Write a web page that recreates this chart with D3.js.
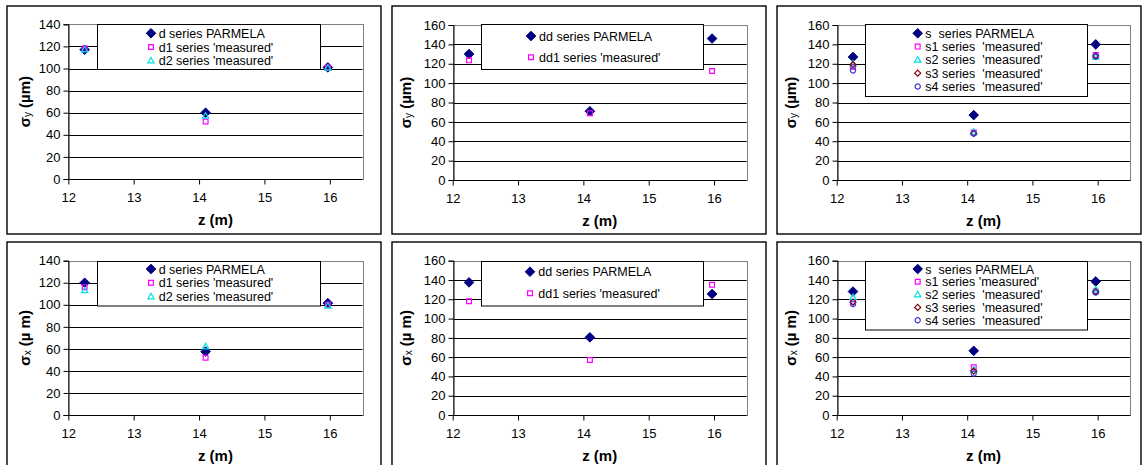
<!DOCTYPE html>
<html>
<head>
<meta charset="utf-8">
<script src="https://cdn.jsdelivr.net/npm/d3@7"></script>
<style>
  html, body { margin: 0; padding: 0; background: #fff; }
  svg { display: block; }
  text { font-family: "Liberation Sans", Arial, sans-serif; fill: #000; }
</style>
</head>
<body>
<svg id="chart" width="1143" height="465"></svg>
<script>
// Beam size along the line: PARMELA simulation vs. measured, three optics settings
const zPositions = [12.25, 14.1, 15.97];

const zTicks = [12, 13, 14, 15, 16];
const yTicks140 = [0, 20, 40, 60, 80, 100, 120, 140];
const yTicks160 = [0, 20, 40, 60, 80, 100, 120, 140, 160];

// vertical size σy (µm)
const sigmaY_d_parmela = [117, 60, 101];
const sigmaY_d1 = [118, 52, 101];
const sigmaY_d2 = [117, 57, 100.5];

const sigmaY_dd_parmela = [130, 71, 146];
const sigmaY_dd1 = [123.5, 69, 112.5];

const sigmaY_s_parmela = [127, 67, 140];
const sigmaY_s1 = [117, 49, 129];
const sigmaY_s2 = [120, 49.5, 127];
const sigmaY_s3 = [119, 48, 128];
const sigmaY_s4 = [113, 48, 127.5];

// horizontal size σx (µm)
const sigmaX_d_parmela = [120, 57.5, 101.5];
const sigmaX_d1 = [116, 52, 100];
const sigmaX_d2 = [113, 62, 99];

const sigmaX_dd_parmela = [137.5, 80.5, 125.5];
const sigmaX_dd1 = [118, 57, 135];

const sigmaX_s_parmela = [128, 66.5, 138.5];
const sigmaX_s1 = [117.5, 49.5, 128];
const sigmaX_s2 = [122, 47, 130];
const sigmaX_s3 = [117, 45.5, 128];
const sigmaX_s4 = [115, 43, 127];

// legend labels
const labels_d = ["d series PARMELA", "d1 series 'measured'", "d2 series 'measured'"];
const labels_dd = ["dd series PARMELA", "dd1 series 'measured'"];
const labels_sY = ["s  series PARMELA", "s1 series  'measured'", "s2 series  'measured'", "s3 series  'measured'", "s4 series  'measured'"];
const labels_sX = ["s  series PARMELA", "s1 series 'measured'", "s2 series  'measured'", "s3 series  'measured'", "s4 series  'measured'"];

// marker styles, in series order
const markerStyles = {
  parmela: { shape: "diamond", size: 4.8, fill: "#000080", stroke: "#000080" },
  m1: { shape: "square", size: 2.4, fill: "none", stroke: "#ff00ff" },
  m2: { shape: "triangle", size: 3.2, fill: "none", stroke: "#00e0e0" },
  m3: { shape: "diamond", size: 3.0, fill: "none", stroke: "#800000" },
  m4: { shape: "circle", size: 2.6, fill: "none", stroke: "#3a3ad0" }
};

function markerPath(shape, s) {
  const p = d3.path();
  if (shape === "diamond") {
    p.moveTo(0, -s); p.lineTo(s, 0); p.lineTo(0, s); p.lineTo(-s, 0); p.closePath();
  } else if (shape === "square") {
    p.rect(-s, -s, 2 * s, 2 * s);
  } else if (shape === "triangle") {
    const h = s * 1.7;
    p.moveTo(0, -h * 0.6); p.lineTo(s, h * 0.4); p.lineTo(-s, h * 0.4); p.closePath();
  } else {
    p.arc(0, 0, s, 0, 2 * Math.PI);
  }
  return p.toString();
}

const panels = [
  { frame: [7, 6, 374, 228], plot: [68.3, 24.3, 362.5, 179], yMax: 140, yTicks: yTicks140, axis: "y", unitGap: false,
    titleX: 25, legend: { box: [97, 24, 223, 45], mx: 151, tx: 158.7, y0: 33.3, dy: 13.7 },
    series: [[sigmaY_d_parmela, "parmela"], [sigmaY_d1, "m1"], [sigmaY_d2, "m2"]], labels: labels_d },
  { frame: [392, 6, 374, 228], plot: [452.7, 25, 746.7, 180], yMax: 160, yTicks: yTicks160, axis: "y", unitGap: false,
    titleX: 406, legend: { box: [481, 24, 222, 45], mx: 531, tx: 539, y0: 36, dy: 21.3 },
    series: [[sigmaY_dd_parmela, "parmela"], [sigmaY_dd1, "m1"]], labels: labels_dd },
  { frame: [777, 6, 364, 228], plot: [836.7, 25, 1130.3, 180], yMax: 160, yTicks: yTicks160, axis: "y", unitGap: false,
    titleX: 791, legend: { box: [865, 24, 222, 72], mx: 917.7, tx: 925.3, y0: 33.3, dy: 13.3 },
    series: [[sigmaY_s_parmela, "parmela"], [sigmaY_s1, "m1"], [sigmaY_s2, "m2"], [sigmaY_s3, "m3"], [sigmaY_s4, "m4"]], labels: labels_sY },
  { frame: [7, 242, 374, 240], plot: [68.3, 260.7, 362.5, 415], yMax: 140, yTicks: yTicks140, axis: "x", unitGap: true,
    titleX: 25, legend: { box: [97, 260.7, 223, 44.5], mx: 151, tx: 158.7, y0: 269, dy: 13.8 },
    series: [[sigmaX_d_parmela, "parmela"], [sigmaX_d1, "m1"], [sigmaX_d2, "m2"]], labels: labels_d },
  { frame: [392, 242, 374, 240], plot: [452.7, 260.7, 746.7, 415], yMax: 160, yTicks: yTicks160, axis: "x", unitGap: true,
    titleX: 406, legend: { box: [481, 260.7, 222, 44.5], mx: 530, tx: 538.3, y0: 271.7, dy: 21.6 },
    series: [[sigmaX_dd_parmela, "parmela"], [sigmaX_dd1, "m1"]], labels: labels_dd },
  { frame: [777, 242, 364, 240], plot: [836.7, 260.7, 1130.3, 415], yMax: 160, yTicks: yTicks160, axis: "x", unitGap: true,
    titleX: 791, legend: { box: [865, 260.7, 222, 68.5], mx: 917.7, tx: 925.3, y0: 269, dy: 12.8 },
    series: [[sigmaX_s_parmela, "parmela"], [sigmaX_s1, "m1"], [sigmaX_s2, "m2"], [sigmaX_s3, "m3"], [sigmaX_s4, "m4"]], labels: labels_sX }
];

const svg = d3.select("#chart");

panels.forEach(cfg => {
  const g = svg.append("g");
  const [fx, fy, fw, fh] = cfg.frame;
  g.append("rect").attr("x", fx).attr("y", fy).attr("width", fw).attr("height", fh)
    .attr("fill", "#fff").attr("stroke", "#000").attr("stroke-width", 1.4);

  const [x0, y0, x1, y1] = cfg.plot;
  const x = d3.scaleLinear().domain([12, 16.5]).range([x0, x1]);
  const y = d3.scaleLinear().domain([0, cfg.yMax]).range([y1, y0]);

  // gridlines
  g.append("g").selectAll("line").data(cfg.yTicks.filter(t => t > 0 && t < cfg.yMax)).join("line")
    .attr("x1", x0).attr("x2", x1)
    .attr("y1", d => Math.round(y(d)) + 0.5).attr("y2", d => Math.round(y(d)) + 0.5)
    .attr("stroke", "#000").attr("stroke-width", 1);

  // plot area border
  g.append("rect").attr("x", Math.round(x0) + 0.5).attr("y", Math.round(y0) + 0.5)
    .attr("width", Math.round(x1) - Math.round(x0)).attr("height", Math.round(y1) - Math.round(y0))
    .attr("fill", "none").attr("stroke", "#808080").attr("stroke-width", 1);

  // y axis
  const yAxis = d3.axisLeft(y).tickValues(cfg.yTicks).tickSize(5).tickPadding(3).tickFormat(d3.format("d"));
  const ya = g.append("g").attr("transform", `translate(${Math.round(x0) + 0.5},0)`).call(yAxis);
  // x axis
  const xAxis = d3.axisBottom(x).tickValues(zTicks).tickSize(5).tickPadding(8).tickFormat(d3.format("d"));
  const xa = g.append("g").attr("transform", `translate(0,${Math.round(y1) + 0.5})`).call(xAxis);

  [ya, xa].forEach(a => {
    a.select(".domain").attr("stroke", "#000");
    a.selectAll(".tick line").attr("stroke", "#000");
    a.selectAll(".tick text").attr("font-size", 13).attr("font-family", "'Liberation Sans', Arial, sans-serif").attr("fill", "#000");
  });
  xa.select(".domain").attr("d", `M${x0},0H${x1}`);

  // axis titles
  g.append("text").attr("x", (x0 + x1) / 2).attr("y", y1 + 45.5)
    .attr("text-anchor", "middle").attr("font-size", 15).attr("font-weight", "bold").text("z (m)");

  const yt = g.append("text")
    .attr("transform", `translate(${cfg.titleX + 5},${(y0 + y1) / 2}) rotate(-90)`)
    .attr("text-anchor", "middle").attr("font-size", 15).attr("font-weight", "bold")
    .style("white-space", "pre");
  yt.append("tspan").text("σ");
  yt.append("tspan").attr("font-size", 10).attr("font-weight", "normal").attr("dy", 1).text(cfg.axis);
  yt.append("tspan").attr("dy", -1).text(cfg.unitGap ? " (µ m)" : " (µm)");

  // data markers, series in drawing order
  cfg.series.forEach(([vals, key]) => {
    const st = markerStyles[key];
    g.append("g").selectAll("path").data(zPositions.map((z, i) => [z, vals[i]])).join("path")
      .attr("d", markerPath(st.shape, st.size))
      .attr("transform", d => `translate(${x(d[0])},${y(d[1])})`)
      .attr("fill", st.fill).attr("stroke", st.stroke)
      .attr("stroke-width", key === "parmela" ? 1 : 1.2);
  });

  // legend
  const L = cfg.legend;
  g.append("rect").attr("x", Math.round(L.box[0]) + 0.5).attr("y", Math.round(L.box[1]) + 0.5)
    .attr("width", L.box[2]).attr("height", L.box[3])
    .attr("fill", "#fff").attr("stroke", "#000").attr("stroke-width", 1);
  cfg.series.forEach(([vals, key], i) => {
    const st = markerStyles[key];
    const ly = L.y0 + i * L.dy;
    g.append("path").attr("d", markerPath(st.shape, st.size))
      .attr("transform", `translate(${L.mx},${ly})`)
      .attr("fill", st.fill).attr("stroke", st.stroke)
      .attr("stroke-width", key === "parmela" ? 1 : 1.2);
    g.append("text").attr("x", L.tx).attr("y", ly + 4.5)
      .attr("font-size", 12.5).style("white-space", "pre").text(cfg.labels[i]);
  });
});
</script>
</body>
</html>
